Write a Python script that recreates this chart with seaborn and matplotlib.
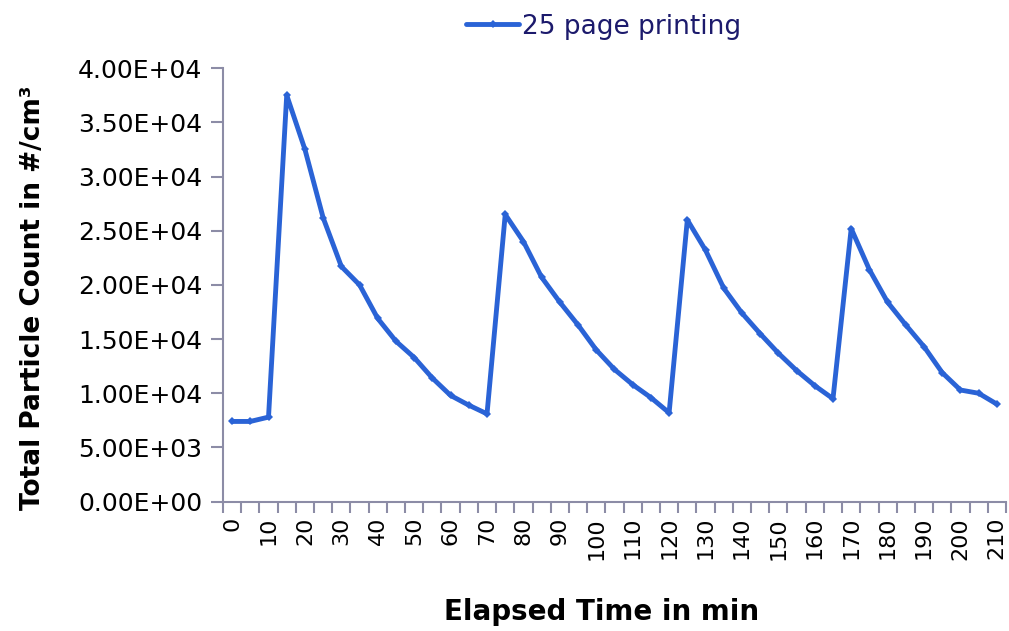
import matplotlib
matplotlib.use("Agg")
import matplotlib.pyplot as plt
import matplotlib.ticker as ticker
import pandas as pd
import seaborn as sns

minutes = [0, 5, 10, 15, 20, 25, 30, 35, 40, 45, 50, 55, 60, 65, 70, 75, 80, 85,
           90, 95, 100, 105, 110, 115, 120, 125, 130, 135, 140, 145, 150, 155,
           160, 165, 170, 175, 180, 185, 190, 195, 200, 205, 210]
counts = [7400, 7400, 7800, 37500, 32500, 26200, 21700, 20000, 16900, 14800,
          13300, 11400, 9800, 8900, 8100, 26500, 24000, 20700, 18400, 16300,
          14000, 12200, 10800, 9600, 8200, 26000, 23200, 19700, 17400, 15500,
          13700, 12100, 10700, 9500, 25200, 21400, 18400, 16300, 14300, 11900,
          10300, 10000, 9000]
series_name = "25 page printing"
xlabel = "Elapsed Time in min"
ylabel = "Total Particle Count in #/cm³"
yticks = [0, 5000, 10000, 15000, 20000, 25000, 30000, 35000, 40000]

df = pd.DataFrame({"pos": list(range(len(minutes))), "count": counts})

sns.set_style("white")
plt.rcParams["font.family"] = ["DejaVu Sans"]
plt.rcParams["text.color"] = "black"
plt.rcParams["axes.labelcolor"] = "black"
plt.rcParams["xtick.color"] = "black"
plt.rcParams["ytick.color"] = "black"

axis_col = "#8c8ca6"
line_col = "#2a63d6"

fig = plt.figure(figsize=(10.09, 6.31), dpi=100)
ax = fig.add_axes([0.221, 0.205, 0.776, 0.687])

sns.lineplot(data=df, x="pos", y="count", color=line_col, linewidth=3.5,
             marker="D", markersize=4, markeredgewidth=0, label=series_name,
             ax=ax)

ax.set_xlim(-0.5, len(minutes) - 0.5)
ax.set_ylim(0, 40000)
ax.set_yticks(yticks)
ax.yaxis.set_major_formatter(ticker.FuncFormatter(lambda y, pos: "{:.2E}".format(y)))

major = list(range(0, len(minutes), 2))
ax.set_xticks(major)
ax.set_xticklabels([str(minutes[i]) for i in major], rotation=90)
ax.set_xticks([i - 0.5 for i in range(len(minutes) + 1)], minor=True)

ax.tick_params(axis="x", which="major", bottom=True, length=0, pad=11,
               labelsize=16, labelcolor="black")
ax.tick_params(axis="x", which="minor", bottom=True, length=8, width=1.5,
               color=axis_col, direction="out")
ax.tick_params(axis="y", left=True, length=9, width=1.5, color=axis_col,
               direction="out", labelsize=18, pad=6, labelcolor="black")

sns.despine(ax=ax)
for s in ["left", "bottom"]:
    ax.spines[s].set_color(axis_col)
    ax.spines[s].set_linewidth(1.5)

ax.set_xlabel(xlabel, fontsize=20, fontweight="bold", color="black")
ax.set_ylabel(ylabel, fontsize=19, fontweight="bold", color="black")
ax.xaxis.set_label_coords(0.483, -0.222)
ax.yaxis.set_label_coords(-0.226, 0.47)

leg = ax.legend(loc="center", bbox_to_anchor=(0.598, 0.958),
                bbox_transform=fig.transFigure, frameon=False, fontsize=19,
                handlelength=2.0, handletextpad=0.1)
for t in leg.get_texts():
    t.set_color("#1c1a6c")

fig.savefig("out.png", dpi=100)
